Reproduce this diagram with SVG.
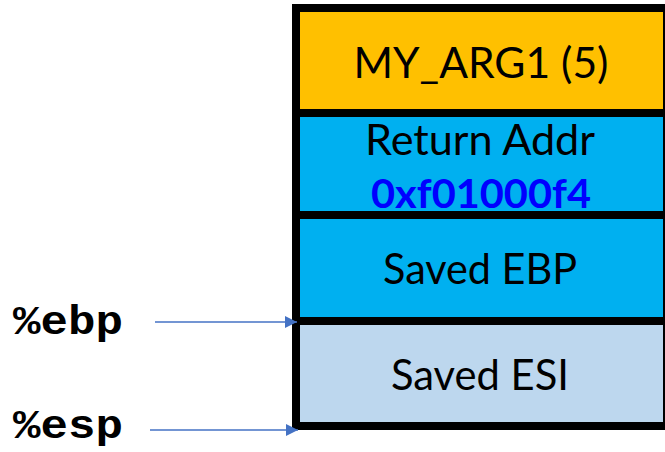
<svg xmlns="http://www.w3.org/2000/svg" width="665" height="452" viewBox="0 0 665 452">
  <style>
    .cell { stroke: #000000; stroke-width: 8; }
    .lbl { font-family: Lato, "Open Sans", "Liberation Sans", sans-serif; font-size: 43px; fill: #000000; text-anchor: middle; }
    .addr { font-family: Lato, "Open Sans", "Liberation Sans", sans-serif; font-size: 41px; font-weight: bold; fill: #0000FF; text-anchor: middle; }
    .reg { font-family: "Liberation Mono", "Courier New", monospace; font-size: 40px; font-weight: bold; fill: #000000; }
    .ptr { stroke: #4472C4; stroke-width: 1.5; fill: none; }
  </style>
  <defs>
    <marker id="head" markerWidth="12" markerHeight="12" refX="10" refY="5" orient="auto" markerUnits="userSpaceOnUse" viewBox="0 0 10 10">
      <path d="M0,0 L10,5 L0,10 z" fill="#4472C4"/>
    </marker>
  </defs>
  <rect width="665" height="452" fill="#FFFFFF"/>

  <!-- stack frame slots -->
  <g id="arg1">
    <rect class="cell" x="296" y="8" width="371" height="105" fill="#FFC000"/>
    <text class="lbl" x="481" y="78" textLength="255" lengthAdjust="spacingAndGlyphs">MY_ARG1 (5)</text>
  </g>
  <g id="retaddr">
    <rect class="cell" x="296" y="113" width="371" height="102" fill="#00B0F0"/>
    <text class="lbl" x="480" y="155" textLength="230" lengthAdjust="spacingAndGlyphs">Return Addr</text>
    <text class="addr" x="481" y="208" textLength="220" lengthAdjust="spacingAndGlyphs">0xf01000f4</text>
  </g>
  <g id="savedebp">
    <rect class="cell" x="296" y="215" width="371" height="106" fill="#00B0F0"/>
    <text class="lbl" x="480" y="284" textLength="194" lengthAdjust="spacingAndGlyphs">Saved EBP</text>
  </g>
  <g id="savedesi">
    <rect class="cell" x="296" y="321" width="371" height="105" fill="#BDD7EE"/>
    <text class="lbl" x="480" y="390" textLength="178" lengthAdjust="spacingAndGlyphs">Saved ESI</text>
  </g>

  <!-- register labels -->
  <g id="ebp">
    <text class="reg" x="13" y="334" textLength="110" lengthAdjust="spacingAndGlyphs">%ebp</text>
  </g>
  <g id="esp">
    <text class="reg" x="13" y="438" textLength="110" lengthAdjust="spacingAndGlyphs">%esp</text>
  </g>

  <!-- register pointers -->
  <g id="connectors">
    <line class="ptr" x1="155" y1="322" x2="297" y2="322" marker-end="url(#head)"/>
    <line class="ptr" x1="150" y1="430" x2="298" y2="430" marker-end="url(#head)"/>
  </g>
</svg>
